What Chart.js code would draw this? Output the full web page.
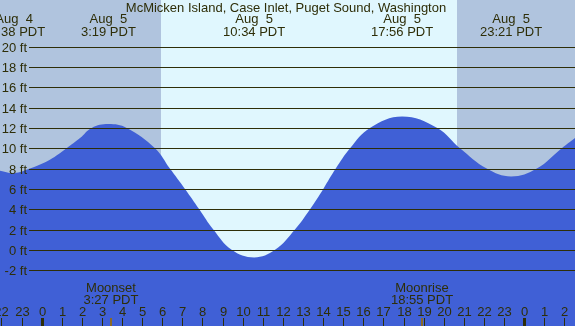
<!DOCTYPE html>
<html>
<head>
<meta charset="utf-8">
<script src="https://cdn.jsdelivr.net/npm/chart.js@4"></script>
<style>
  html, body { margin: 0; padding: 0; background: #fff; }
  canvas { display: block; }
</style>
</head>
<body>
<canvas id="tideChart" width="575" height="326"></canvas>
<script>
// tide curve (hours from Aug 5 00:00, feet)
const tideHours = [-2.07, -1.37, -0.58, 0.41, 1.24, 1.91, 2.49, 3.32, 4.23, 5.64, 6.38, 7.13, 7.84, 8.54, 9.45, 10.57,
                   11.61, 12.60, 13.35, 14.01, 14.63, 15.34, 16.33, 17.93, 19.68, 20.81, 22.14, 23.35,
                   24.63, 25.87, 26.53];
const tideFeet = [7.78, 7.55, 8.0, 8.87, 10.0, 11.0, 12.0, 12.38, 12.0, 10.0, 8.0, 6.0, 4.0, 2.0, 0.0, -0.75,
                  0.0, 2.0, 4.0, 6.0, 8.0, 10.0, 12.0, 13.13, 12.0, 10.0, 8.0, 7.22,
                  8.0, 10.0, 11.0];

// high / low labels along the top
const extremeHours = [-1.37, 3.32, 10.57, 17.93, 23.35];
const extremeDates = ['Aug  4', 'Aug  5', 'Aug  5', 'Aug  5', 'Aug  5'];
const extremeTimes = ['22:38 PDT', '3:19 PDT', '10:34 PDT', '17:56 PDT', '23:21 PDT'];

// moon events along the bottom
const moonHours = [3.45, 18.92];
const moonNames = ['Moonset', 'Moonrise'];
const moonTimes = ['3:27 PDT', '18:55 PDT'];

// daylight
const sunrise = 5.93;
const sunset = 20.67;

// axis ticks
const feetTicks = [20, 18, 16, 14, 12, 10, 8, 6, 4, 2, 0, -2];
const hourTicks = [-2, -1, 0, 1, 2, 3, 4, 5, 6, 7, 8, 9, 10, 11, 12, 13, 14, 15, 16, 17, 18, 19, 20, 21, 22, 23, 24, 25, 26];

const titleText = 'McMicken Island, Case Inlet, Puget Sound, Washington';

const textColor = '#2e2e08';
const lineColor = '#2e2e08';
const font = '13px "Liberation Sans", Arial, sans-serif';

// Nền ngày / đêm
const shadePlugin = {
    id: 'shade',
    beforeDatasetsDraw(chart) {
        const ctx = chart.ctx;
        const x = chart.scales.x;
        const a = chart.chartArea;
        const xr = x.getPixelForValue(sunrise);
        const xs = x.getPixelForValue(sunset);
        ctx.save();
        ctx.fillStyle = '#b0c4de';
        ctx.fillRect(a.left, a.top, a.right - a.left, a.bottom - a.top);
        ctx.fillStyle = '#e0f7fe';
        ctx.fillRect(Math.round(xr), a.top, Math.round(xs) - Math.round(xr), a.bottom - a.top);
        ctx.restore();
    }
};

// Lưới, nhãn và vạch giờ
const overlayPlugin = {
    id: 'overlay',
    afterDatasetsDraw(chart) {
        const ctx = chart.ctx;
        const x = chart.scales.x;
        const y = chart.scales.y;
        const a = chart.chartArea;
        ctx.save();
        ctx.font = font;

        // grid lines + ft labels
        feetTicks.forEach(v => {
            const py = Math.round(y.getPixelForValue(v)) + 0.5;
            ctx.strokeStyle = lineColor;
            ctx.lineWidth = 1;
            ctx.beginPath();
            ctx.moveTo(29, py);
            ctx.lineTo(a.right, py);
            ctx.stroke();
            ctx.fillStyle = textColor;
            ctx.textAlign = 'right';
            ctx.textBaseline = 'middle';
            ctx.fillText(v + ' ft', 27, py + 0.5);
        });

        // title
        ctx.textAlign = 'center';
        ctx.textBaseline = 'alphabetic';
        ctx.fillStyle = textColor;
        ctx.fillText(titleText, 286, 12);

        // high / low labels
        extremeHours.forEach((h, i) => {
            const px = x.getPixelForValue(h);
            ctx.fillText(extremeDates[i], px, 23);
            ctx.fillText(extremeTimes[i], px, 36);
        });

        // moon labels + ticks
        moonHours.forEach((h, i) => {
            const px = x.getPixelForValue(h);
            ctx.fillStyle = textColor;
            ctx.fillText(moonNames[i], px, 292);
            ctx.fillText(moonTimes[i], px, 304);
            ctx.fillStyle = '#8a6a2a';
            ctx.fillRect(Math.round(px) - 1, 318, 2, a.bottom - 318);
        });

        // hour ticks
        hourTicks.forEach(h => {
            const px = Math.round(x.getPixelForValue(h));
            const hr = ((h % 24) + 24) % 24;
            ctx.fillStyle = textColor;
            if (hr === 0) {
                ctx.fillRect(px - 1, 318, 3, a.bottom - 318);
            } else {
                ctx.fillRect(px, 318, 1, a.bottom - 318);
            }
            ctx.fillText(String(hr), px + 0.5, 316);
        });

        ctx.restore();
    }
};

const ctx = document.getElementById('tideChart').getContext('2d');
const chart = new Chart(ctx, {
    type: 'line',
    data: {
        datasets: [{
            data: tideHours.map((h, i) => ({ x: h, y: tideFeet[i] })),
            borderWidth: 0,
            borderColor: 'rgba(0,0,0,0)',
            backgroundColor: '#4060d6',
            fill: 'start',
            pointRadius: 0,
            tension: 0.4
        }]
    },
    options: {
        responsive: false,
        animation: false,
        devicePixelRatio: 1,
        layout: { padding: 0 },
        scales: {
            x: { type: 'linear', min: -2.07, max: 26.53, display: false },
            y: { min: -7.5, max: 24.6, display: false }
        },
        plugins: {
            legend: { display: false },
            tooltip: { enabled: false }
        }
    },
    plugins: [shadePlugin, overlayPlugin]
});
</script>
</body>
</html>
